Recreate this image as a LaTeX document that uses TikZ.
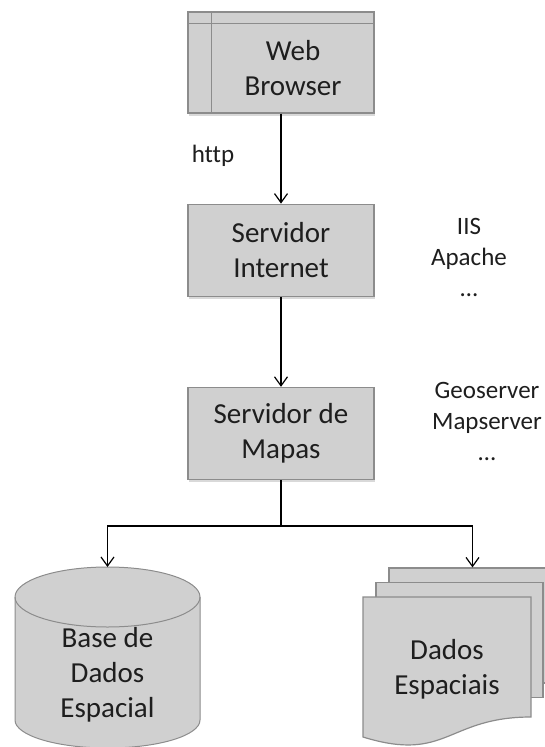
\documentclass[tikz,border=0pt]{standalone}
\usepackage{fontspec}
\setmainfont{Carlito}[Ligatures=CommonOff]
\usetikzlibrary{positioning, arrows.meta, shadows}
\definecolor{boxfill}{HTML}{D0D0D0}
\definecolor{boxline}{HTML}{8C8C8C}
\definecolor{inkgray}{HTML}{1E1E1E}

\begin{document}
\begin{tikzpicture}[
    x=1pt, y=-1pt,
    node distance=90pt,
    box/.style={draw=boxline, line width=1.2pt, fill=boxfill, minimum width=186pt, minimum height=92pt, align=center, font=\fontsize{29}{35}\selectfont, text=inkgray, drop shadow={shadow xshift=1pt, shadow yshift=-3pt, opacity=.3}},
    boxtext/.style={align=center, font=\fontsize{29}{35}\selectfont, text=inkgray, inner sep=0pt},
    note/.style={align=center, font=\fontsize{25}{31}\selectfont, text=inkgray, inner sep=0pt},
    sheet/.style={draw=boxline, line width=1.2pt, fill=boxfill, minimum width=167pt, minimum height=115pt},
    arr/.style={line width=1.2pt, -{Straight Barb[length=9pt, width=13pt]}}
]
\useasboundingbox (0,0) rectangle (545,747);

% browser window
\node[box, minimum height=101pt] (web) at (281,62.5) {};
\draw[boxline, line width=1pt] ([yshift=-12pt]web.north west) -- ([yshift=-12pt]web.north east);
\draw[boxline, line width=1pt] ([xshift=24pt]web.north west) -- ([xshift=24pt]web.south west);
\node[boxtext] (webtxt) at ([xshift=12pt, yshift=-6pt]web.center) {Web\\Browser};

% servers
\node[box, below=90pt of web] (srvint) {Servidor\\Internet};
\node[box, below=90pt of srvint] (srvmap) {Servidor de\\Mapas};

\node[note] (http) at (213,156) {http};
\node[note] (iis) at (469,257) {IIS\\Apache\\…};
\node[note] (geo) at (487,421) {Geoserver\\Mapserver\\…};

% database cylinder
\path[draw=boxline, line width=1pt, fill=boxfill] (15,597) -- (15,720)
    arc[start angle=180, end angle=0, x radius=92.5, y radius=28] -- (200,597)
    arc[start angle=0, end angle=-180, x radius=92.5, y radius=30] -- cycle;
\draw[boxline, line width=1pt] (15,597) arc[start angle=180, end angle=0, x radius=92.5, y radius=30];
\coordinate (dbtop) at (107.5,567);
\node[boxtext] (db) at (107.5,675) {Base de\\Dados\\Espacial};

% stack of documents
\node[sheet] (sheetc) at (472.5,625.5) {};
\node[sheet] (sheetb) at (459.5,640) {};
\draw[boxline, line width=1.2pt, fill=boxfill] (363,597) -- (531,597) -- (531,717)
    .. controls (447,717) and (447,763) .. (363,737) -- cycle;
\node[boxtext] (docs) at (447,669) {Dados\\Espaciais};

\draw[arr] (web) -- (srvint);
\draw[arr] (srvint) -- (srvmap);
\draw[arr] (srvmap.south) -- ++(0,46) -| (dbtop);
\draw[arr] (srvmap.south) -- ++(0,46) -| (sheetc.north);
\end{tikzpicture}
\end{document}
